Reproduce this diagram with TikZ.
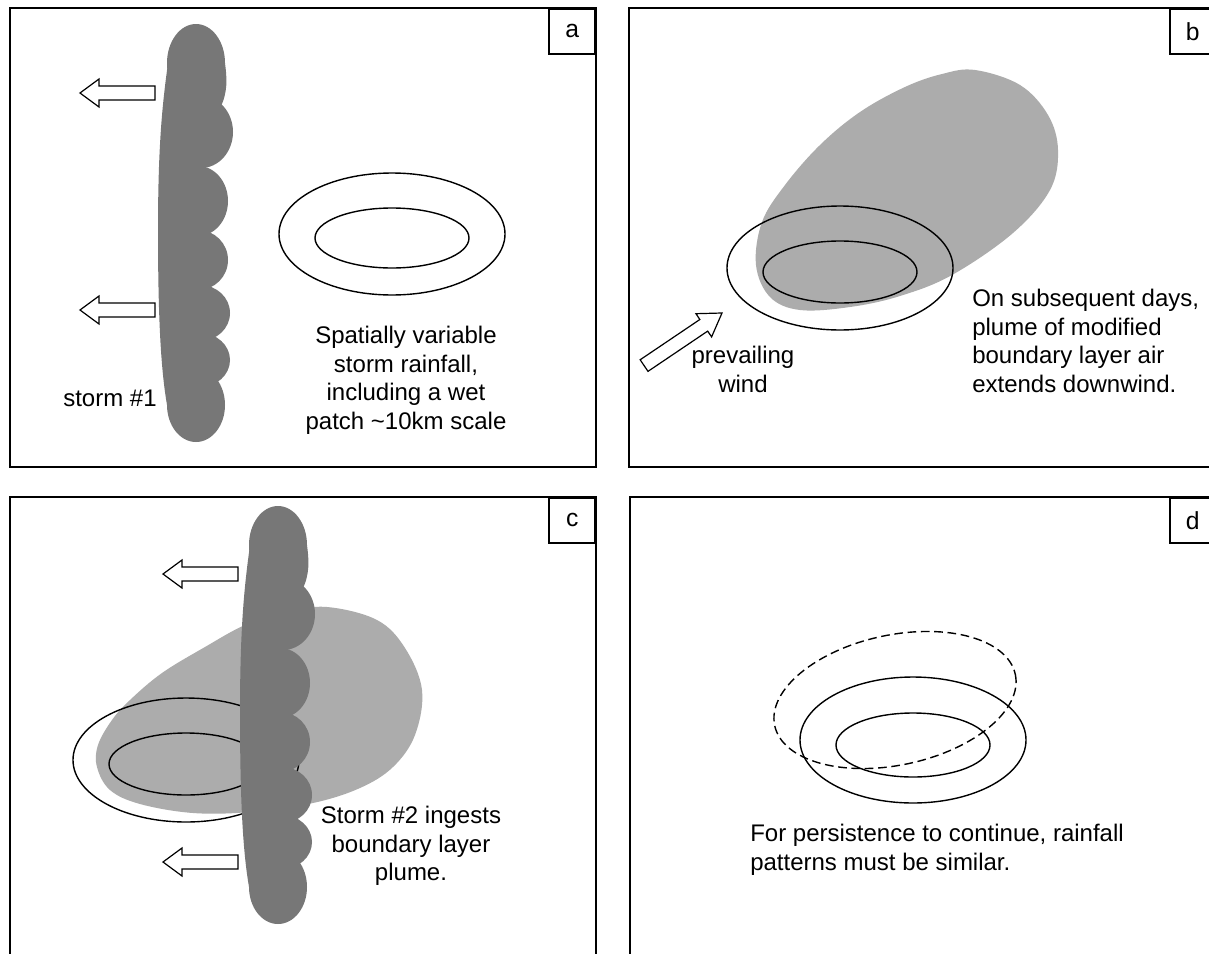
\documentclass[tikz,border=0pt]{standalone}
\usepackage{fontspec}
\setmainfont{Liberation Sans}
\begin{document}
\begin{tikzpicture}[x=0.75pt,y=-0.75pt,
  panel/.style={draw=black,line width=1.15pt},
  labelbox/.style={draw=black,line width=1.15pt,minimum width=34.5pt,minimum height=33.75pt,inner sep=0pt,font=\fontsize{18.5}{21.4}\selectfont},
  txt/.style={inner sep=0pt,font=\fontsize{18}{21.4}\selectfont},
  stormfill/.style={fill=stormgrey},
  plumefill/.style={fill=plumegrey},
  patch/.style={draw=black,line width=1.05pt},
  hollowarrow/.style={draw=black,line width=0.9pt,fill=white,line join=miter}]
\definecolor{stormgrey}{RGB}{119,119,119}
\definecolor{plumegrey}{RGB}{172,172,172}
\tikzset{
  blockarrow/.pic={\path[hollowarrow] (0,0) -- (-19,-14) -- (-19,-7) -- (-75,-7) -- (-75,7) -- (-19,7) -- (-19,14) -- cycle;},
  windarrow/.pic={\path[hollowarrow] (0,0) -- (-22,-14) -- (-22,-7) -- (-94,-7) -- (-94,7) -- (-22,7) -- (-22,14) -- cycle;},
  storm/.pic={
    \fill[stormfill] (196,63) ellipse (29 and 39);
    \fill[stormfill] (196,63) -- (225,63) .. controls (227,78) and (228,93) .. (220,108) -- (196,108) -- cycle;
    \fill[stormfill] (201,132) ellipse (32 and 36);
    \fill[stormfill] (198,201) ellipse (30 and 35);
    \fill[stormfill] (198,260) ellipse (30 and 30);
    \fill[stormfill] (200,313) ellipse (30 and 28);
    \fill[stormfill] (200,360) ellipse (30 and 27);
    \fill[stormfill] (196,405) ellipse (29 and 37);
    \fill[stormfill] (168,63) .. controls (163,100) and (158,140) .. (158,230)
      .. controls (158,320) and (161,370) .. (167,405) -- (200,405) -- (200,63) -- cycle;
  }}
\useasboundingbox (0,0) rectangle (1209,953);
\clip (0,0) rectangle (1209,953);
\fill[white] (0,0) rectangle (1209,953);

% ---------- panel a ----------
\draw[panel] (10,8) rectangle (596,467);
\node[labelbox,anchor=north east] (la) at (596,8) {a};
\pic at (0,0) {storm};
\pic[rotate=180] at (80,93) {blockarrow};
\pic[rotate=180] at (80,310) {blockarrow};
\draw[patch] (392,234) ellipse (113 and 61);
\draw[patch] (392,238) ellipse (77 and 30);
\node[txt,align=center,anchor=north] (ta) at (406,326) {Spatially variable\\storm rainfall,\\including a wet\\patch \textasciitilde10km scale};
\node[txt,anchor=base] (s1) at (110,406) {storm \#1};

% ---------- panel b ----------
\draw[panel] (629,8) rectangle (1230,467);
\node[labelbox,anchor=north west] (lb) at (1169,8) {b};
\fill[plumefill] plot[smooth cycle,tension=0.6] coordinates {
  (975,70) (1020,85) (1048,115) (1058,150) (1050,190) (1013,233) (952,275)
  (900,296) (850,307) (800,310) (770,297) (756,265) (762,222) (785,185)
  (820,145) (860,112) (905,87) (942,74)};
\draw[patch] (840,268) ellipse (113 and 62);
\draw[patch] (840,272) ellipse (77 and 31);
\pic[rotate=34] at (722,313) {windarrow};
\node[txt,align=center,anchor=north] (tw) at (743,346) {prevailing\\wind};
\node[txt,align=left,anchor=north west] (tb) at (972,289) {On subsequent days,\\plume of modified\\boundary layer air\\extends downwind.};

% ---------- panel c ----------
\draw[panel] (10,497) rectangle (596,990);
\node[labelbox,anchor=north east] (lc) at (596,497) {c};
\fill[plumefill] plot[smooth cycle,tension=0.6] coordinates {
  (327,607) (377,620) (405,648) (422,690) (415,735) (393,767) (360,788)
  (313,803) (250,812) (193,813) (140,804) (110,790) (97,767) (98,745)
  (112,720) (130,700) (162,673) (205,647) (245,625) (285,612)};
\draw[patch] (186,760) ellipse (113 and 62);
\draw[patch] (186,764) ellipse (77 and 31);
\begin{scope}[shift={(82,482)}]
\pic at (0,0) {storm};
\end{scope}
\pic[rotate=180] at (163,574) {blockarrow};
\pic[rotate=180] at (163,862) {blockarrow};
\node[txt,align=center,anchor=north] (tc) at (411,806) {Storm \#2 ingests\\boundary layer\\plume.};

% ---------- panel d ----------
\draw[panel] (630,497) rectangle (1230,990);
\node[labelbox,anchor=north west] (ld) at (1169,497) {d};
\draw[patch,dash pattern=on 6.5pt off 3.5pt,rotate around={12:(895,700)}] (895,700) ellipse (123 and 65);
\draw[patch] (913,740) ellipse (113 and 63);
\draw[patch] (913,745) ellipse (77 and 32);
\node[txt,align=left,anchor=north west] (td) at (750,824) {For persistence to continue, rainfall\\patterns must be similar.};
\end{tikzpicture}
\end{document}
